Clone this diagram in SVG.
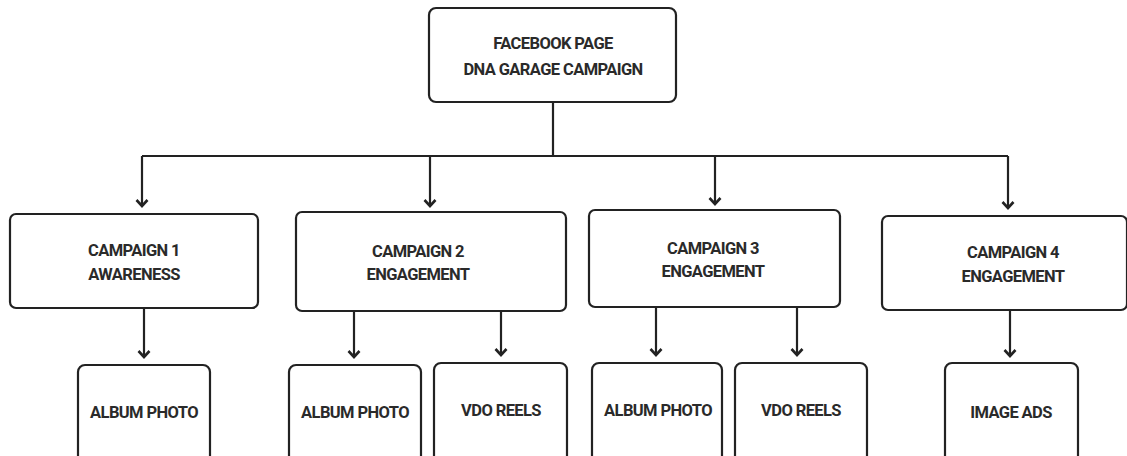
<svg xmlns="http://www.w3.org/2000/svg" width="1127" height="456" viewBox="0 0 1127 456">
<style>
.box{fill:#fff;stroke:#222;stroke-width:2.2}
.t{font-family:Roboto,"Liberation Sans",sans-serif;font-weight:bold;font-size:16.5px;letter-spacing:-0.6px;fill:#2a2a2a;text-anchor:middle}
.c{fill:none;stroke:#222;stroke-width:2.2}
</style>
<defs>
<marker id="ah" markerWidth="14" markerHeight="14" refX="10" refY="7" orient="auto" markerUnits="userSpaceOnUse" viewBox="0 0 14 14">
<path d="M4,1.5 L10,7 L4,12.5" fill="none" stroke="#222" stroke-width="2.6"/>
</marker>
</defs>
<rect width="1127" height="456" fill="#fff"/>
<g id="connectors">
<path class="c" d="M553,103 V156 M142,156 H1008"/>
<path class="c" d="M142,156 V206" marker-end="url(#ah)"/>
<path class="c" d="M430,156 V206" marker-end="url(#ah)"/>
<path class="c" d="M715,156 V204" marker-end="url(#ah)"/>
<path class="c" d="M1008,156 V208" marker-end="url(#ah)"/>
<path class="c" d="M144,308 V357" marker-end="url(#ah)"/>
<path class="c" d="M354,311 V357" marker-end="url(#ah)"/>
<path class="c" d="M501,311 V355" marker-end="url(#ah)"/>
<path class="c" d="M656,307 V355" marker-end="url(#ah)"/>
<path class="c" d="M797,307 V355" marker-end="url(#ah)"/>
<path class="c" d="M1010,310 V356" marker-end="url(#ah)"/>
</g>
<g id="root"><rect class="box" x="429" y="8" width="247" height="94" rx="7"/>
<text class="t" x="553" y="49">FACEBOOK PAGE</text><text class="t" x="553" y="75">DNA GARAGE CAMPAIGN</text></g>
<g id="c1"><rect class="box" x="10" y="214" width="248" height="94" rx="6"/>
<text class="t" x="134" y="256">CAMPAIGN 1</text><text class="t" x="134" y="280">AWARENESS</text></g>
<g id="c2"><rect class="box" x="296" y="212" width="270" height="99" rx="6"/>
<text class="t" x="418" y="257">CAMPAIGN 2</text><text class="t" x="418" y="280">ENGAGEMENT</text></g>
<g id="c3"><rect class="box" x="589" y="210" width="251" height="97" rx="6"/>
<text class="t" x="713" y="254">CAMPAIGN 3</text><text class="t" x="713" y="277">ENGAGEMENT</text></g>
<g id="c4"><rect class="box" x="882" y="216" width="245" height="94" rx="6"/>
<text class="t" x="1013" y="258">CAMPAIGN 4</text><text class="t" x="1013" y="282">ENGAGEMENT</text></g>
<g id="b1"><rect class="box" x="78" y="365" width="132" height="110" rx="7"/>
<text class="t" x="144" y="418">ALBUM PHOTO</text></g>
<g id="b2"><rect class="box" x="289" y="365" width="132" height="110" rx="7"/>
<text class="t" x="355" y="418">ALBUM PHOTO</text></g>
<g id="b3"><rect class="box" x="434" y="363" width="133" height="110" rx="7"/>
<text class="t" x="501" y="416">VDO REELS</text></g>
<g id="b4"><rect class="box" x="592" y="363" width="130" height="110" rx="7"/>
<text class="t" x="658" y="416">ALBUM PHOTO</text></g>
<g id="b5"><rect class="box" x="735" y="363" width="132" height="110" rx="7"/>
<text class="t" x="801" y="416">VDO REELS</text></g>
<g id="b6"><rect class="box" x="945" y="363" width="133" height="110" rx="7"/>
<text class="t" x="1011" y="418">IMAGE ADS</text></g>
</svg>
